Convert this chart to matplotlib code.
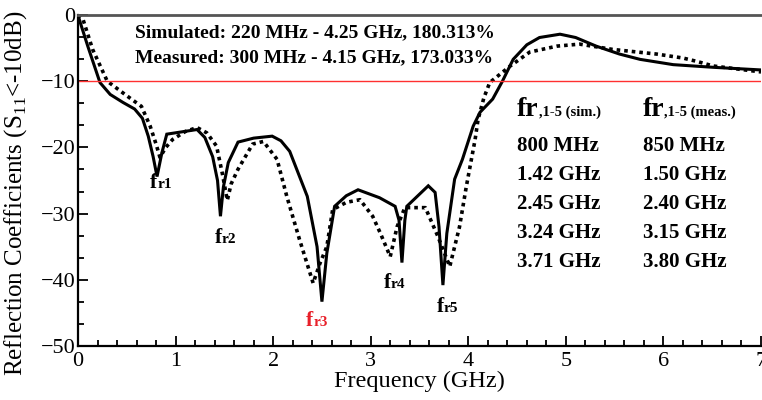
import matplotlib
matplotlib.use("Agg")
import matplotlib.pyplot as plt

# ---------------- data ----------------
sim_freq = [0, 0.02, 0.10, 0.225, 0.33, 0.46, 0.58, 0.66, 0.72, 0.77, 0.81, 0.86, 0.91,
            1.22, 1.30, 1.38, 1.43, 1.46, 1.49, 1.54, 1.64, 1.80, 1.99, 2.08, 2.17,
            2.35, 2.45, 2.50, 2.55, 2.63, 2.75, 2.87, 3.09, 3.25, 3.29, 3.32, 3.35,
            3.37, 3.59, 3.66, 3.70, 3.74, 3.78, 3.86, 3.94, 4.05, 4.12, 4.25, 4.35,
            4.46, 4.60, 4.73, 4.94, 5.10, 5.31, 5.55, 5.76, 6.10, 6.51, 7.0]
sim_s11 = [0, -1.0, -4.7, -10.2, -12.0, -13.2, -14.2, -15.6, -18.3, -21.4, -24.4, -20.8, -18.0,
           -17.3, -18.5, -21.4, -25.0, -30.4, -26.0, -22.3, -19.2, -18.6, -18.3, -19.0, -20.6,
           -27.4, -35.0, -43.3, -36.0, -28.9, -27.3, -26.4, -27.6, -28.9, -31.0, -37.4, -31.0,
           -28.9, -25.8, -26.8, -32.0, -40.8, -33.0, -24.8, -21.8, -16.8, -14.7, -12.7, -10.0,
           -6.7, -4.5, -3.4, -2.9, -3.4, -4.7, -5.9, -6.7, -7.5, -7.9, -8.3]

meas_freq = [0, 0.05, 0.15, 0.30, 0.50, 0.65, 0.74, 0.80, 0.84, 0.90, 0.97, 1.10,
             1.22, 1.32, 1.42, 1.48, 1.53, 1.57, 1.64, 1.79, 1.90, 2.04, 2.14, 2.27,
             2.41, 2.48, 2.55, 2.61, 2.75, 2.89, 3.02, 3.10, 3.20, 3.27, 3.35, 3.56,
             3.69, 3.81, 3.91, 3.98, 4.07, 4.10, 4.16, 4.22, 4.43, 4.63, 4.91, 5.14,
             5.48, 5.93, 6.20, 6.34, 6.51, 7.0]
meas_s11 = [0, -0.6, -5.2, -10.0, -12.2, -13.8, -16.8, -19.5, -21.5, -20.0, -18.8, -17.6,
            -17.0, -17.8, -19.8, -24.0, -28.0, -25.5, -23.3, -19.5, -19.1, -21.8, -27.4, -33.9,
            -40.5, -37.5, -35.0, -29.4, -28.3, -27.9, -30.4, -33.0, -36.5, -32.0, -29.1, -29.1,
            -33.5, -38.0, -32.0, -25.9, -18.8, -15.8, -12.5, -10.2, -7.7, -5.6, -4.7, -4.4,
            -5.2, -5.9, -6.5, -7.0, -7.7, -8.6]

threshold = -10

res_labels = ["r1", "r2", "r3", "r4", "r5"]
sim_res = ["800 MHz", "1.42 GHz", "2.45 GHz", "3.24 GHz", "3.71 GHz"]
meas_res = ["850 MHz", "1.50 GHz", "2.40 GHz", "3.15 GHz", "3.80 GHz"]

band_lines = ["Simulated: 220 MHz - 4.25 GHz, 180.313%",
              "Measured: 300 MHz - 4.15 GHz, 173.033%"]

# ---------------- plot ----------------
plt.rcParams["font.family"] = ["Liberation Serif", "DejaVu Serif"]
plt.rcParams["mathtext.fontset"] = "custom"
plt.rcParams["mathtext.rm"] = "Liberation Serif"

fig = plt.figure(figsize=(7.62, 4.0), dpi=100)
ax = fig.add_axes([78 / 762, 54 / 400, 683 / 762, 331 / 400])

ax.plot(sim_freq, sim_s11, color="black", lw=2.2, solid_joinstyle="miter")
ax.plot(meas_freq, meas_s11, color="black", lw=2.6, linestyle=(0, (1.0, 1.1)))
ax.axhline(threshold, color="#ff3030", lw=1.0)

ax.set_xlim(0, 7)
ax.set_ylim(-50, 0)
ax.set_xticks(range(0, 8))
ax.set_yticks(range(-50, 1, 10))
ax.set_xticks([i * 0.2 for i in range(36)], minor=True)
ax.set_yticks([-50 + i * 10 / 3 for i in range(16)], minor=True)
ax.tick_params(which="both", direction="in", width=1.3, labelsize=16, colors="black")
ax.tick_params(which="major", length=7)
ax.tick_params(which="minor", length=4)
ax.tick_params(axis="x", pad=4)
ax.tick_params(axis="y", pad=2)

for side in ["left", "bottom"]:
    ax.spines[side].set_linewidth(1.6)
ax.spines["top"].set_linewidth(2.0)
ax.spines["top"].set_color("#555555")
ax.spines["right"].set_visible(False)

ax.set_xlabel("Frequency (GHz)", fontsize=17.5, labelpad=0)
ax.set_ylabel(r"Reflection Coefficients (S$_{\rm 11}$<-10dB)", fontsize=18)
ax.yaxis.set_label_coords(-0.072, 0.46)

# bandwidth notes
ax.text(0.584, -3.3, band_lines[0], fontsize=14, fontweight="bold", va="baseline")
ax.text(0.584, -7.1, band_lines[1], fontsize=14, fontweight="bold", va="baseline")

# resonance labels next to the dips
label_pos = [(0.74, -26.1), (1.40, -34.5), (2.34, -47.0), (3.13, -41.2), (3.68, -44.8)]
for (lx, ly), lab in zip(label_pos, res_labels):
    col = "#e8202a" if lab == "r3" else "black"
    ax.annotate("f", (lx, ly), fontsize=15.5, fontweight="bold", color=col, va="baseline")
    ax.annotate(lab, (lx, ly), xytext=(5, 0), textcoords="offset points",
                fontsize=11, fontweight="bold", color=col, va="baseline")

# resonance table
col_x = [4.50, 5.79]
heads = [",1-5 (sim.)", ",1-5 (meas.)"]
for cx, head, vals in zip(col_x, heads, [sim_res, meas_res]):
    ax.annotate("fr", (cx, -15.3), fontsize=20, fontweight="bold", va="baseline")
    ax.annotate(head, (cx, -15.3), xytext=(15.5, 0), textcoords="offset points",
                fontsize=10.5, fontweight="bold", va="baseline")
    for i, v in enumerate(vals):
        ax.text(cx, -20.5 - 4.4 * i, v, fontsize=15, fontweight="bold", va="baseline")

fig.savefig("out.png", dpi=100)
